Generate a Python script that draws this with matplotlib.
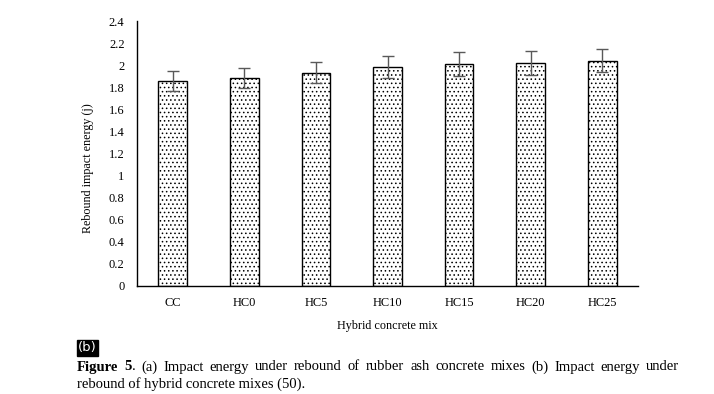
import matplotlib
matplotlib.use("Agg")
import matplotlib.pyplot as plt
import numpy as np

mixes = ["CC", "HC0", "HC5", "HC10", "HC15", "HC20", "HC25"]
energy = [1.86, 1.88, 1.93, 1.98, 2.01, 2.02, 2.04]
err = [0.09, 0.09, 0.095, 0.10, 0.105, 0.105, 0.105]
yticks = [0, 0.2, 0.4, 0.6, 0.8, 1, 1.2, 1.4, 1.6, 1.8, 2, 2.2, 2.4]
ytick_labels = ["0", "0.2", "0.4", "0.6", "0.8", "1", "1.2", "1.4", "1.6", "1.8", "2", "2.2", "2.4"]

plt.rcParams["font.family"] = ["Liberation Serif", "DejaVu Serif"]
plt.rcParams["hatch.linewidth"] = 0.6

W, H = 714, 394
fig = plt.figure(figsize=(W / 100, H / 100), dpi=100)
ax = fig.add_axes([137 / W, 1 - 286 / H, 501 / W, 265 / H])

x = np.arange(len(mixes))
ax.bar(x, energy, width=0.4, color="white", edgecolor="black", linewidth=1.0,
       hatch="....", zorder=2)
ax.errorbar(x, energy, yerr=err, fmt="none", ecolor="#595959", elinewidth=1.0,
            capsize=4, capthick=1.0, zorder=3)

ax.set_xlim(-0.5, len(mixes) - 0.5)
ax.set_ylim(0, 2.4)
ax.set_yticks(yticks)
ax.set_yticklabels(ytick_labels)
ax.set_xticks(x)
ax.set_xticklabels(mixes)
ax.tick_params(axis="both", length=0, labelsize=8.9)
ax.tick_params(axis="y", pad=9)
ax.tick_params(axis="x", pad=8)
for s in ["top", "right"]:
    ax.spines[s].set_visible(False)
for s in ["left", "bottom"]:
    ax.spines[s].set_linewidth(1.0)

fig.text(387 / W, 1 - 326 / H, "Hybrid concrete mix", ha="center", va="center", fontsize=8.7)
fig.text(88 / W, 1 - 168 / H, "Rebound impact energy (j)", ha="center", va="center",
         rotation=90, fontsize=8.7)

# panel tag
fig.text(78 / W, 1 - 348 / H, "(b)", ha="left", va="center", fontsize=9.5, color="white",
         family="DejaVu Sans",
         bbox=dict(boxstyle="square,pad=0.1", facecolor="black", edgecolor="black"))

# caption, first line justified
cap_size = 10.5
line1 = [("Figure", "bold"), ("5.", "bold"), ("(a)", "normal"), ("Impact", "normal"),
         ("energy", "normal"), ("under", "normal"), ("rebound", "normal"), ("of", "normal"),
         ("rubber", "normal"), ("ash", "normal"), ("concrete", "normal"), ("mixes", "normal"),
         ("(b)", "normal"), ("Impact", "normal"), ("energy", "normal"), ("under", "normal")]
x0, x1 = 77, 679
y1 = 1 - 367 / H
texts = []
for w, wt in line1:
    if w == "5.":
        texts.append(fig.text(0, y1, "5", fontsize=cap_size, fontweight="bold", va="center"))
        texts.append(fig.text(0, y1, ".", fontsize=cap_size, va="center"))
    else:
        texts.append(fig.text(0, y1, w, fontsize=cap_size, fontweight=wt, va="center"))
fig.canvas.draw()
r = fig.canvas.get_renderer()
widths = [t.get_window_extent(r).width for t in texts]
# "5" and "." are glued together
groups = []
i = 0
while i < len(texts):
    if texts[i].get_text() == "5":
        groups.append([i, i + 1])
        i += 2
    else:
        groups.append([i])
        i += 1
gw = [sum(widths[j] for j in g) for g in groups]
gap = (x1 - x0 - sum(gw)) / (len(groups) - 1)
pos = x0
for g, w in zip(groups, gw):
    p = pos
    for j in g:
        texts[j].set_x(p / W)
        p += widths[j]
    pos += w + gap

fig.text(x0 / W, 1 - 384 / H, "rebound of hybrid concrete mixes (50).", fontsize=cap_size,
         va="center")

fig.savefig("out.png", dpi=100)
